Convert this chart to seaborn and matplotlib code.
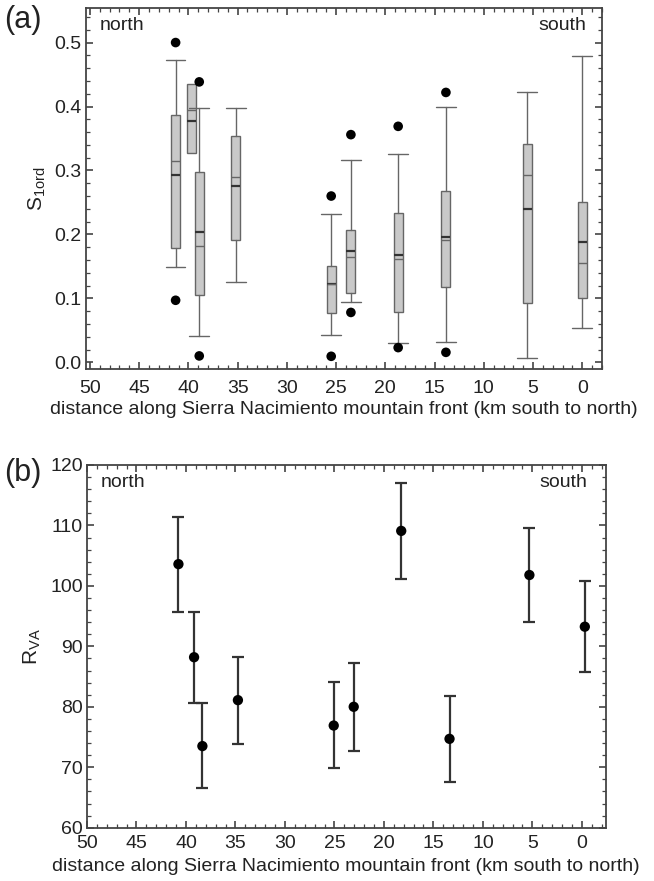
import numpy as np
import pandas as pd
import matplotlib
matplotlib.use("Agg")
import matplotlib.pyplot as plt
import seaborn as sns
from matplotlib.ticker import MultipleLocator

# (a) S1ord box statistics per site, km along the front
site_km = [41.3, 39.7, 38.9, 35.2, 25.5, 23.5, 18.7, 13.85, 5.6, 0.0]
whis_lo = [0.149, 0.328, 0.041, 0.126, 0.043, 0.094, 0.030, 0.031, 0.006, 0.054]
q1 = [0.178, 0.328, 0.106, 0.191, 0.077, 0.109, 0.079, 0.118, 0.093, 0.101]
median = [0.293, 0.378, 0.203, 0.276, 0.123, 0.1745, 0.168, 0.196, 0.240, 0.1885]
mean = [0.315, 0.394, 0.182, 0.289, 0.122, 0.165, 0.1615, 0.192, 0.293, 0.155]
q3 = [0.387, 0.435, 0.298, 0.354, 0.151, 0.207, 0.233, 0.268, 0.341, 0.2505]
whis_hi = [0.472, 0.435, 0.398, 0.397, 0.232, 0.316, 0.3255, 0.3995, 0.422, 0.479]

# outliers drawn as black dots
out_km = [41.3, 41.3, 38.9, 38.9, 25.5, 25.5, 23.5, 23.5, 18.7, 18.7, 13.85, 13.85]
out_val = [0.500, 0.097, 0.4385, 0.010, 0.260, 0.0094, 0.356, 0.078, 0.369, 0.023, 0.422, 0.0156]

# (b) RVA with error ranges
rva_km = [40.76, 39.18, 38.34, 34.75, 25.07, 23.05, 18.25, 13.37, 5.3, -0.3]
rva = [103.6, 88.2, 73.5, 81.1, 76.9, 80.0, 109.1, 74.7, 101.8, 93.25]
rva_lo = [95.7, 80.7, 66.5, 73.9, 69.8, 72.7, 101.1, 67.6, 94.0, 85.7]
rva_hi = [111.45, 95.6, 80.6, 88.3, 84.05, 87.2, 117.1, 81.8, 109.6, 100.8]

sns.set_style("ticks")
plt.rcParams['font.family'] = ['Liberation Sans', 'DejaVu Sans']
plt.rcParams['mathtext.fontset'] = 'custom'
plt.rcParams['mathtext.rm'] = 'Liberation Sans'

fig = plt.figure(figsize=(6.54, 8.81), dpi=100)
ax1 = fig.add_axes([0.1315, 0.5812, 0.789, 0.4097])
ax2 = fig.add_axes([0.133, 0.0605, 0.793, 0.4117])

txt = '#222222'
spine_c = '#444444'
xlab = 'distance along Sierra Nacimiento mountain front (km south to north)'

#%% panel a
stats = []
for i in range(len(site_km)):
    stats.append(dict(med=median[i], q1=q1[i], q3=q3[i], whislo=whis_lo[i],
                      whishi=whis_hi[i], mean=mean[i], fliers=[]))
caps = [2.0 if (whis_hi[i] > q3[i] or whis_lo[i] < q1[i]) else 0.0 for i in range(len(site_km))]

ax1.bxp(stats, positions=site_km, widths=0.9, capwidths=caps, patch_artist=True,
        showmeans=True, meanline=True, showfliers=False, manage_ticks=False,
        boxprops=dict(facecolor='#c9c9c9', edgecolor='#666666', linewidth=1.0),
        whiskerprops=dict(color='#666666', linewidth=1.0),
        capprops=dict(color='#666666', linewidth=1.0),
        medianprops=dict(color='#333333', linewidth=1.6),
        meanprops=dict(color='#666666', linewidth=1.0, linestyle='-'))

df_out = pd.DataFrame({'km': out_km, 'val': out_val})
sns.scatterplot(data=df_out, x='km', y='val', color='black', s=48, edgecolor='none', ax=ax1, zorder=5)

ax1.set_xlim(50.4, -2.0)
ax1.set_ylim(-0.0104, 0.554)
ax1.yaxis.set_major_locator(MultipleLocator(0.1))
ax1.yaxis.set_minor_locator(MultipleLocator(0.02))
ax1.set_ylabel(r'S$_{\mathrm{1ord}}$', fontsize=15, color=txt, labelpad=5)
ax1.set_xlabel(xlab, fontsize=14, color=txt, labelpad=3)
ax1.text(0.027, 0.975, 'north', transform=ax1.transAxes, ha='left', va='top', fontsize=14, color=txt)
ax1.text(0.970, 0.975, 'south', transform=ax1.transAxes, ha='right', va='top', fontsize=14, color=txt)
fig.text(0.006, 0.977, '(a)', fontsize=22, color=txt, ha='left', va='center')

#%% panel b
df_b = pd.DataFrame({'km': rva_km, 'rva': rva, 'lo': rva_lo, 'hi': rva_hi})
ax2.errorbar(df_b['km'], df_b['rva'], yerr=[df_b['rva'] - df_b['lo'], df_b['hi'] - df_b['rva']],
             fmt='none', ecolor='#333333', elinewidth=1.6, capsize=4, capthick=1.6)
sns.scatterplot(data=df_b, x='km', y='rva', color='black', s=55, edgecolor='none', ax=ax2, zorder=5)

ax2.set_xlim(50.0, -2.4)
ax2.set_ylim(60, 120)
ax2.yaxis.set_major_locator(MultipleLocator(10))
ax2.yaxis.set_minor_locator(MultipleLocator(2))
ax2.set_ylabel(r'R$_{\mathrm{VA}}$', fontsize=15, color=txt, labelpad=5)
ax2.set_xlabel(xlab, fontsize=14, color=txt, labelpad=4)
ax2.text(0.027, 0.975, 'north', transform=ax2.transAxes, ha='left', va='top', fontsize=14, color=txt)
ax2.text(0.965, 0.975, 'south', transform=ax2.transAxes, ha='right', va='top', fontsize=14, color=txt)
fig.text(0.006, 0.463, '(b)', fontsize=22, color=txt, ha='left', va='center')

for ax in (ax1, ax2):
    ax.xaxis.set_major_locator(MultipleLocator(5))
    ax.xaxis.set_minor_locator(MultipleLocator(1))
    ax.tick_params(which='both', direction='in', top=True, right=True, colors=spine_c,
                   labelcolor=txt, labelsize=14)
    ax.tick_params(which='major', length=5, width=1.2)
    ax.tick_params(which='minor', length=3, width=0.9)
    for s in ax.spines.values():
        s.set_color(spine_c)
        s.set_linewidth(1.3)

ax1.tick_params(axis='x', which='major', pad=8)
ax2.tick_params(axis='x', which='major', pad=5.5)
ax1.tick_params(axis='y', which='major', pad=3)
ax2.tick_params(axis='y', which='major', pad=3)

fig.savefig('out.png', dpi=100)
